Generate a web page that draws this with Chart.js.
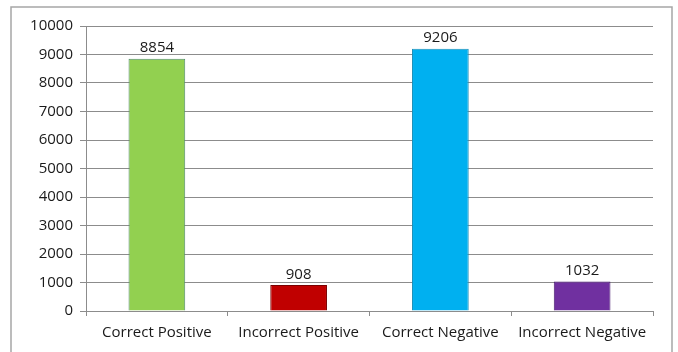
<!DOCTYPE html>
<html>
<head>
<meta charset="utf-8">
<script src="https://cdn.jsdelivr.net/npm/chart.js@4.4.1/dist/chart.umd.min.js"></script>
<style>
  html, body { margin: 0; padding: 0; background: #fff; }
  #wrap { width: 678px; height: 352px; }
</style>
</head>
<body>
<div id="wrap"><canvas id="resultChart" width="678" height="352"></canvas></div>
<script>
const categories = ['Correct Positive', 'Incorrect Positive', 'Correct Negative', 'Incorrect Negative'];
const counts = [8854, 908, 9206, 1032];
const barColors = ['#92D050', '#C00000', '#00B0F0', '#7030A0'];
const barBorders = ['#4f8a6a', '#7a0000', '#1a8fb8', '#4a1d70'];

const fontFamily = '"Open Sans", "Liberation Sans", sans-serif';

// outer frame like the spreadsheet chart box
const frame = {
  id: 'frame',
  beforeDraw(chart) {
    const ctx = chart.ctx;
    ctx.save();
    ctx.strokeStyle = '#a6a6a6';
    ctx.lineWidth = 1.5;
    ctx.strokeRect(11, 7, 661, 360);
    ctx.restore();
  }
};

// numbers above each bar
const valueLabels = {
  id: 'valueLabels',
  afterDatasetsDraw(chart) {
    const ctx = chart.ctx;
    const meta = chart.getDatasetMeta(0);
    ctx.save();
    ctx.font = '15px ' + fontFamily;
    ctx.fillStyle = '#1a1a1a';
    ctx.textAlign = 'center';
    ctx.textBaseline = 'bottom';
    meta.data.forEach((bar, i) => {
      ctx.fillText(String(counts[i]), bar.x, bar.y - 3);
    });
    ctx.restore();
  }
};

const ctx = document.getElementById('resultChart');
new Chart(ctx, {
  type: 'bar',
  data: {
    labels: categories,
    datasets: [{
      data: counts,
      backgroundColor: barColors,
      borderColor: barBorders,
      borderWidth: 1,
      categoryPercentage: 1,
      barPercentage: 0.4
    }]
  },
  options: {
    responsive: false,
    animation: false,
    layout: { padding: { left: 0, right: 25, top: 26, bottom: 0 } },
    plugins: {
      legend: { display: false },
      tooltip: { enabled: false }
    },
    scales: {
      x: {
        grid: {
          drawOnChartArea: false,
          drawTicks: true,
          tickLength: 5,
          color: '#8c8c8c'
        },
        border: { color: '#8c8c8c' },
        ticks: {
          color: '#1a1a1a',
          font: { family: fontFamily, size: 15 },
          padding: 8,
          maxRotation: 0,
          autoSkip: false
        },
        afterFit(scale) { scale.height = 41; }
      },
      y: {
        min: 0,
        max: 10000,
        grid: {
          color: '#8c8c8c',
          tickLength: 6
        },
        border: { color: '#8c8c8c' },
        ticks: {
          stepSize: 1000,
          color: '#1a1a1a',
          font: { family: fontFamily, size: 15 },
          padding: 7,
          callback: v => String(v)
        },
        afterFit(scale) { scale.width = 86; }
      }
    }
  },
  plugins: [frame, valueLabels]
});
</script>
</body>
</html>
